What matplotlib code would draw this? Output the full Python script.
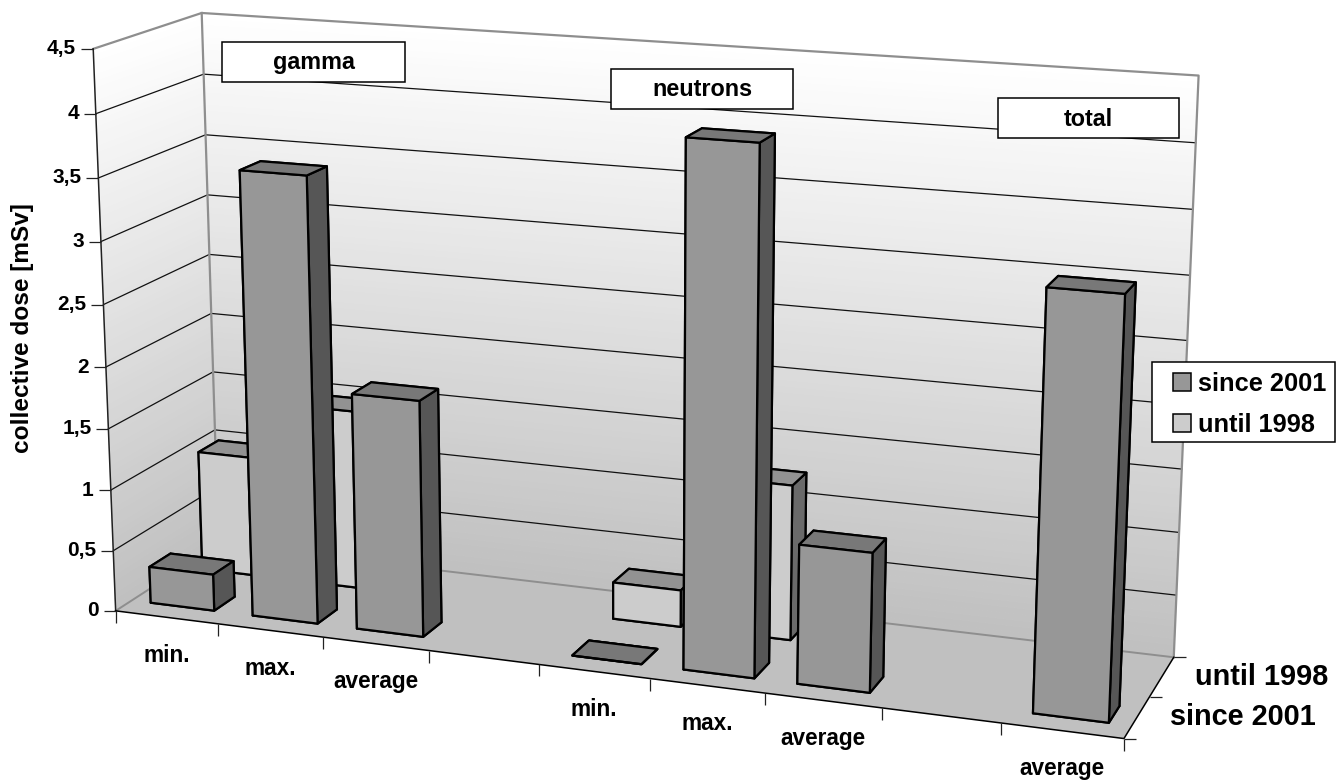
import numpy as np
import matplotlib
matplotlib.use("Agg")
import matplotlib.pyplot as plt
from matplotlib.patches import Patch, Rectangle
from mpl_toolkits.mplot3d.art3d import Poly3DCollection

# ---------- data ----------
categories = ['min.', 'max.', 'average', '', 'min.', 'max.', 'average', '', 'average']
since_2001 = [0.3, 3.585, 1.9, np.nan, 0.0, 4.09, 1.09, np.nan, 3.2]
until_1998 = [1.0, 1.48, np.nan, np.nan, 0.3, 1.25, np.nan, np.nan, np.nan]
series_names = ['since 2001', 'until 1998']
z_ticks = [0, 0.5, 1, 1.5, 2, 2.5, 3, 3.5, 4, 4.5]
z_tick_labels = ['0', '0,5', '1', '1,5', '2', '2,5', '3', '3,5', '4', '4,5']
group_labels = ['gamma', 'neutrons', 'total']

W, H = 1336, 780
FONT = 'Liberation Sans'
plt.rcParams['font.family'] = FONT
plt.rcParams['font.weight'] = 'bold'

# ---------- camera: picture positions of the chart box corners and ticks ----------
calib_world = np.array([
    [0, 0, 0], [0, 0, 4.5], [0, 2, 4.5], [0, 2, 0], [9, 2, 4.5], [9, 2, 0], [9, 0, 0],
    [1, 0, 0], [2, 0, 0], [3, 0, 0], [5, 0, 0], [6, 0, 0], [7, 0, 0], [8, 0, 0],
    [0, 0, 4], [0, 0, 3.5], [0, 0, 1.5], [0, 0, 1], [0, 0, 0.5],
    [0, 2, 4], [0, 2, 3.5], [0, 2, 3], [0, 2, 1],
    [9, 2, 4], [9, 2, 3.5], [9, 2, 3], [9, 2, 2.5], [9, 2, 2], [9, 1, 0]], float)
calib_pixel = np.array([
    [116, 611], [94, 49], [201, 13], [219, 544], [1199, 75], [1174, 657], [1123, 738],
    [218, 623], [322, 637], [430, 651], [651, 680], [765, 693], [882, 708], [1001, 723],
    [96, 114], [99, 178], [107, 429], [110, 490], [113, 550],
    [203, 74], [206, 135], [208, 195], [215, 430],
    [1196, 142], [1193, 209], [1190, 275], [1187, 341], [1183, 407], [1151, 696]], float)

def fit_camera(world, pixel):
    rows = []
    for (x, y, z), (u, v) in zip(world, pixel):
        v = H - v
        rows.append([x, y, z, 1, 0, 0, 0, 0, -u*x, -u*y, -u*z, -u])
        rows.append([0, 0, 0, 0, x, y, z, 1, -v*x, -v*y, -v*z, -v])
    P = np.linalg.svd(np.array(rows))[2][-1].reshape(3, 4)
    mid = P[2] @ np.array([4.5, 1, 2, 1])
    return P / mid

P = fit_camera(calib_world, calib_pixel)

def to_fig(x, y, z, dx=0, dy=0):
    """Figure fraction of a chart position, shifted by dx, dy pixels."""
    u, v, w = P @ np.array([x, y, z, 1.0])
    return (u / w + dx) / W, (v / w + dy) / H

fig = plt.figure(figsize=(W/100, H/100), dpi=100, facecolor='white')
side = W / H
ax = fig.add_axes([0, -(side-1)/2, 1, side], projection='3d', computed_zorder=False)
ax.set_axis_off()
ax.set_proj_type('ortho')   # keeps Line3D from clipping; the projection itself is camera_proj

def camera_proj():
    Tinv = np.linalg.inv(ax.transData.get_affine().get_matrix())
    Q = Tinv @ P
    depth = Q[2].copy()
    depth[3] -= 0.5
    return np.vstack([Q[0], Q[1], depth, Q[2]])

ax.get_proj = camera_proj

# ---------- walls ----------
X0, X1, Y0, Y1, Z1 = 0, len(categories), 0, 2, max(z_ticks)
levels = np.linspace(0, Z1, 91)
def wall_gray(z):
    g = 0.75 + 0.25 * (z / Z1)
    return (g, g, g, 1)
back, left, cols = [], [], []
for a, b in zip(levels[:-1], levels[1:]):
    back.append([(X0, Y1, a), (X1, Y1, a), (X1, Y1, b), (X0, Y1, b)])
    left.append([(X0, Y0, a), (X0, Y1, a), (X0, Y1, b), (X0, Y0, b)])
    cols.append(wall_gray((a + b) / 2))
for verts in (back, left):
    ax.add_collection3d(Poly3DCollection(verts, facecolors=cols, edgecolors=cols,
                                         linewidths=0.6, zorder=1))
ax.add_collection3d(Poly3DCollection([[(X0, Y0, 0), (X1, Y0, 0), (X1, Y1, 0), (X0, Y1, 0)]],
                                     facecolors='#c0c0c0', edgecolors='none', zorder=1.5))
# grid lines
for z in z_ticks[1:-1]:
    ax.plot([X0, X0, X1], [Y0, Y1, Y1], [z, z, z], color='#111111', lw=0.9, zorder=2)
WALL_EDGE = '#8e8e8e'
ax.plot([X0, X0, X1, X1], [Y0, Y1, Y1, Y1], [Z1, Z1, Z1, 0], color=WALL_EDGE, lw=1.6, zorder=2.1)
ax.plot([X0, X0], [Y1, Y1], [0, Z1], color=WALL_EDGE, lw=1.6, zorder=2.1)
ax.plot([X0, X0, X1], [Y0, Y1, Y1], [0, 0, 0], color=WALL_EDGE, lw=1.4, zorder=2.1)
ax.plot([X0, X0], [Y0, Y0], [0, Z1], color='#222222', lw=1.1, zorder=2.1)

# ---------- bars ----------
BAR_W, BAR_D = 0.625, 0.4
faces_front = ['#787878', '#787878', '#979797', '#979797', '#565656', '#565656']
faces_back = ['#929292', '#929292', '#cccccc', '#cccccc', '#6a6a6a', '#6a6a6a']
order = 3
for row_y, vals, faces in ((1.3, until_1998, faces_back), (0.3, since_2001, faces_front)):
    for i, v in enumerate(vals):
        if np.isnan(v):
            continue
        ax.bar3d(i + (1 - BAR_W) / 2, row_y, 0, BAR_W, BAR_D, v, color=faces, shade=False,
                 edgecolor='black', linewidth=1.6, zorder=order)
        order += 0.01

# ---------- axes lines and ticks ----------
xt = np.arange(X0, X1 + 1)
ax.plot([X0, X1, X1], [Y0, Y0, Y1], [0, 0, 0], color='black', lw=1.1, zorder=6)
tick_style = dict(linestyle='none', color='#222222', markersize=8.6, markeredgewidth=0.9, zorder=6)
ax.plot(xt, np.zeros_like(xt), np.zeros_like(xt), marker=3, **tick_style)
ax.plot(np.zeros(len(z_ticks)), np.zeros(len(z_ticks)), z_ticks, marker=0, **tick_style)
ax.plot([X1] * 3, [0, 1, 2], [0, 0, 0], marker=1, **tick_style)

for z, s in zip(z_ticks, z_tick_labels):
    fig.text(*to_fig(0, 0, z, dx=-17), s, ha='right', va='center',
             fontsize=15, fontweight='bold', zorder=7)
for i, s in enumerate(categories):
    if s:
        fig.text(*to_fig(i + 0.5, 0, 0, dy=-38), s, ha='center', va='center',
                 fontsize=16.3, fontweight='bold', zorder=7)
for y, s in zip((0.5, 1.5), series_names):
    fig.text(*to_fig(X1, y, 0, dx=33), s, ha='left', va='center',
             fontsize=20.8, fontweight='bold', zorder=7)

# ---------- 2D furniture ----------
def fx(x): return x / W
def fy(y): return 1 - y / H

fig.text(fx(22), fy(328), 'collective dose [mSv]', rotation=90, ha='center', va='center',
         fontsize=17.6, fontweight='bold', zorder=7)

boxes = [(222, 42, 183, 40), (611, 69, 182, 40), (998, 98, 181, 40)]
for (bx, by, bw, bh), s in zip(boxes, group_labels):
    fig.add_artist(Rectangle((fx(bx), fy(by + bh)), bw / W, bh / H, transform=fig.transFigure,
                             facecolor='white', edgecolor='black', linewidth=1.1, zorder=8))
    fig.text(fx(bx + bw / 2), fy(by + bh / 2 + 1), s, ha='center', va='center',
             fontsize=16.8, fontweight='bold', zorder=9)

fig.add_artist(Rectangle((fx(1152), fy(442)), 183 / W, 80 / H, transform=fig.transFigure,
                         facecolor='white', edgecolor='black', linewidth=1.1, zorder=9.5))
handles = [Patch(facecolor=faces_front[2], edgecolor='black', linewidth=1.1),
           Patch(facecolor=faces_back[2], edgecolor='black', linewidth=1.1)]
leg = fig.legend(handles, series_names, loc='upper left', bbox_to_anchor=(fx(1173), fy(372)),
                 borderaxespad=0, frameon=False, borderpad=0,
                 prop=dict(family=FONT, weight='bold', size=18.3),
                 handlelength=0.72, handleheight=0.72, handletextpad=0.28,
                 labelspacing=0.67)
leg.set_zorder(10)

fig.savefig('out.png', dpi=100, facecolor='white')
